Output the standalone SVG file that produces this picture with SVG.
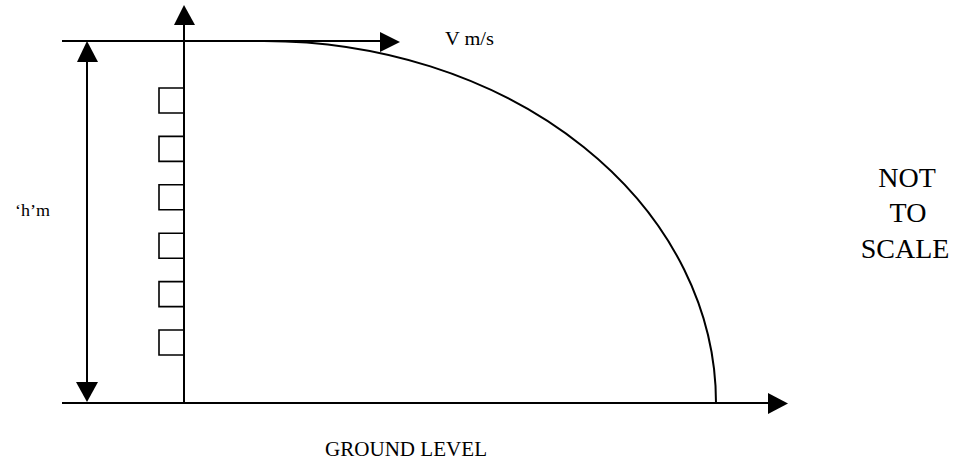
<svg xmlns="http://www.w3.org/2000/svg" width="962" height="461" viewBox="0 0 962 461">
<style>
.ln{stroke:#000;stroke-width:2;fill:none}
.sq{stroke:#000;stroke-width:1.6;fill:none}
.ah{fill:#000;stroke:none}
text{font-family:"Liberation Serif","Times New Roman",serif;fill:#000}
</style>
<rect width="962" height="461" fill="#fff"/>
<g id="connectors">
<line class="ln" x1="62" y1="41" x2="382" y2="41"/>
<polygon class="ah" points="380,32 400,42 380,52"/>
<line class="ln" x1="62" y1="403" x2="770" y2="403"/>
<polygon class="ah" points="768,393 788,403.5 768,414"/>
<line class="ln" x1="184" y1="403" x2="184" y2="22"/>
<polygon class="ah" points="174,25 184,5 195,25"/>
<line class="ln" x1="87" y1="58" x2="87" y2="386"/>
<polygon class="ah" points="77,62 87,41 98,62"/>
<polygon class="ah" points="76,382 87,402 98,382"/>
<path id="trajectory" class="ln" d="M 264 41 A 452 362 0 0 1 716 403"/>
</g>
<g id="floors">
<path class="sq" d="M184 88 H159 V113 H184"/>
<path class="sq" d="M184 136.4 H159 V161.4 H184"/>
<path class="sq" d="M184 184.8 H159 V209.8 H184"/>
<path class="sq" d="M184 233.2 H159 V258.2 H184"/>
<path class="sq" d="M184 281.6 H159 V306.6 H184"/>
<path class="sq" d="M184 330 H159 V355 H184"/>
</g>
<g id="labels">
<text x="445" y="45" font-size="19" textLength="49" lengthAdjust="spacingAndGlyphs">V m/s</text>
<text x="15" y="216" font-size="16" textLength="35" lengthAdjust="spacingAndGlyphs">‘h’m</text>
<text x="325" y="456" font-size="20" textLength="162" lengthAdjust="spacingAndGlyphs">GROUND LEVEL</text>
<g id="note" font-size="28" text-anchor="middle">
<text x="907" y="187">NOT</text>
<text x="908" y="222">TO</text>
<text x="905" y="258">SCALE</text>
</g>
</g>
</svg>
